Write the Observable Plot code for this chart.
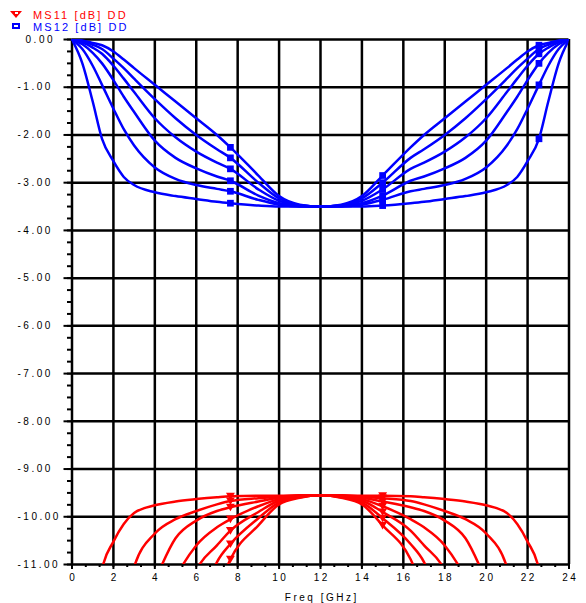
<!DOCTYPE html>
<html><head><meta charset="utf-8">
<script src="https://cdn.jsdelivr.net/npm/d3@7"></script>
<script src="https://cdn.jsdelivr.net/npm/@observablehq/plot@0.6"></script>
<style>
body{margin:0;background:#fff;}
#legend{position:relative;width:586px;height:33px;font-family:"Liberation Sans",Arial,sans-serif;font-size:11px;letter-spacing:2.1px;}
#legend .lab{position:absolute;left:33px;line-height:12px;white-space:nowrap;}
#legend .tri{position:absolute;left:10px;top:11px;width:0;height:0;border-left:6px solid transparent;border-right:6px solid transparent;border-top:7px solid #ff0000;}
#legend .tri::after{content:"";position:absolute;left:-1.5px;top:-6px;width:3px;height:2px;background:#fff;}
#legend .sq{position:absolute;left:12px;top:23px;width:8px;height:6px;box-sizing:border-box;border:2px solid #0000ff;background:#fff;}
#chart svg{display:block;}
</style></head><body>
<div id="legend">
  <span class="tri"></span><span class="lab" style="top:9px;color:#ff0000">MS11 [dB] DD</span>
  <span class="sq"></span><span class="lab" style="top:20.5px;color:#0000ff">MS12 [dB] DD</span>
</div>
<div id="chart"></div>
<script>
// Frequency grid [GHz]
const freq = [0,0.5,1,1.45,2,2.5,3,4,5,6,7,7.65,9,10,11,12,13,14,15,16.35,17,18,19,20,21,21.5,22,22.55,23,23.5,24];

// MS12 [dB] (blue family)
const ms12_a = [0,-0.5,-1.3,-2.08,-2.55,-2.88,-3.05,-3.2,-3.28,-3.34,-3.4,-3.43,-3.48,-3.5,-3.5,-3.5,-3.5,-3.5,-3.48,-3.43,-3.4,-3.34,-3.28,-3.2,-3.05,-2.88,-2.55,-2.08,-1.3,-0.5,0];
const ms12_b = [0,-0.2,-0.55,-0.95,-1.45,-1.88,-2.22,-2.68,-2.92,-3.05,-3.13,-3.18,-3.36,-3.46,-3.5,-3.5,-3.5,-3.46,-3.36,-3.18,-3.13,-3.05,-2.92,-2.68,-2.22,-1.88,-1.45,-0.95,-0.55,-0.2,0];
const ms12_c = [0,-0.1,-0.28,-0.5,-0.85,-1.2,-1.52,-2.12,-2.48,-2.7,-2.87,-2.96,-3.27,-3.43,-3.49,-3.5,-3.49,-3.43,-3.27,-2.96,-2.87,-2.7,-2.48,-2.12,-1.52,-1.2,-0.85,-0.5,-0.28,-0.1,0];
const ms12_d = [0,-0.06,-0.17,-0.3,-0.55,-0.82,-1.1,-1.65,-2.05,-2.35,-2.58,-2.71,-3.14,-3.38,-3.48,-3.5,-3.48,-3.38,-3.14,-2.71,-2.58,-2.35,-2.05,-1.65,-1.1,-0.82,-0.55,-0.3,-0.17,-0.06,0];
const ms12_e = [0,-0.04,-0.11,-0.2,-0.4,-0.6,-0.82,-1.25,-1.65,-2.0,-2.3,-2.48,-3.0,-3.33,-3.47,-3.5,-3.47,-3.33,-3.0,-2.48,-2.3,-2.0,-1.65,-1.25,-0.82,-0.6,-0.4,-0.2,-0.11,-0.04,0];
const ms12_f = [0,-0.02,-0.07,-0.12,-0.25,-0.42,-0.6,-0.95,-1.3,-1.65,-2.0,-2.26,-2.85,-3.28,-3.46,-3.5,-3.46,-3.28,-2.85,-2.26,-2.0,-1.65,-1.3,-0.95,-0.6,-0.42,-0.25,-0.12,-0.07,-0.02,0];

// MS11 [dB] (red family); null = off the chart
const ms11_a = [null,null,-12.4,-11.1,-10.52,-10.15,-9.92,-9.76,-9.68,-9.63,-9.59,-9.57,-9.56,-9.56,-9.55,-9.55,-9.55,-9.56,-9.56,-9.57,-9.59,-9.63,-9.68,-9.76,-9.92,-10.15,-10.52,-11.1,-12.4,null,null];
const ms11_b = [null,null,null,null,null,-11.9,-11.05,-10.35,-10.05,-9.88,-9.74,-9.67,-9.61,-9.58,-9.56,-9.55,-9.56,-9.58,-9.61,-9.67,-9.74,-9.88,-10.05,-10.35,-11.05,-11.9,null,null,null,null,null];
const ms11_c = [null,null,null,null,null,null,-12.5,-11.35,-10.45,-10.08,-9.88,-9.8,-9.68,-9.6,-9.56,-9.55,-9.56,-9.6,-9.68,-9.8,-9.88,-10.08,-10.45,-11.35,-12.5,null,null,null,null,null,null];
const ms11_d = [null,null,null,null,null,null,null,-12.5,-11.3,-10.6,-10.22,-10.05,-9.78,-9.63,-9.57,-9.55,-9.57,-9.63,-9.78,-10.05,-10.22,-10.6,-11.3,-12.5,null,null,null,null,null,null,null];
const ms11_e = [null,null,null,null,null,null,null,null,-12.4,-11.12,-10.6,-10.29,-9.9,-9.66,-9.58,-9.55,-9.58,-9.66,-9.9,-10.29,-10.6,-11.12,-12.4,null,null,null,null,null,null,null,null];
const ms11_f = [null,null,null,null,null,null,null,null,null,-12.2,-10.95,-10.57,-10.03,-9.7,-9.59,-9.55,-9.59,-9.7,-10.03,-10.57,-10.95,-12.2,null,null,null,null,null,null,null,null,null];
const ms11_g = [null,null,null,null,null,null,null,null,null,-13,-11.6,-10.89,-10.18,-9.74,-9.6,-9.55,-9.6,-9.74,-10.18,-10.89,-11.6,-13,null,null,null,null,null,null,null,null,null];

// Marker frequencies
const markFreq12 = [7.65, 15, 22.55];
const markFreq11 = [7.65, 15];

// Axis ticks and labels
const xTicks = [0,2,4,6,8,10,12,14,16,18,20,22,24];
const xTickLabels = ["0","2","4","6","8","10","12","14","16","18","20","22","24"];
const yTicks = [0,-1,-2,-3,-4,-5,-6,-7,-8,-9,-10,-11];
const yTickLabels = ["\u20070.00","-1.00","-2.00","-3.00","-4.00","-5.00","-6.00","-7.00","-8.00","-9.00","-10.00","-11.00"];
const xMinor = d3.range(0, 24.001, 2/3);
const yMinor = d3.range(0, -11.001, -0.25);

const BLUE = "#0000ff", RED = "#ff0000";

function rowsOf(series) {
  const out = [];
  series.forEach((vals, s) => vals.forEach((v, i) => { if (v !== null) out.push({f: freq[i], v, s}); }));
  return out;
}
const rows12 = rowsOf([ms12_a, ms12_b, ms12_c, ms12_d, ms12_e, ms12_f]);
const rows11 = rowsOf([ms11_a, ms11_b, ms11_c, ms11_d, ms11_e, ms11_f, ms11_g]);
const marks12 = rows12.filter(d => markFreq12.includes(d.f));
const marks11 = rows11.filter(d => markFreq11.includes(d.f) && d.v >= -11);

const triDown = {
  draw(ctx, size) {
    const k = Math.sqrt(size);
    ctx.moveTo(-0.6 * k, -0.48 * k);
    ctx.lineTo(0.6 * k, -0.48 * k);
    ctx.lineTo(0, 0.55 * k);
    ctx.closePath();
  }
};

const chart = Plot.plot({
  width: 586,
  height: 570,
  marginLeft: 71.5,
  marginRight: 17.5,
  marginTop: 6,
  marginBottom: 39,
  x: {domain: [0, 24], label: null},
  y: {domain: [-11, 0], label: null},
  style: {fontFamily: "'Liberation Sans', Arial, sans-serif", fontSize: "10px", letterSpacing: "2.5px", background: "#fff", color: "#000", overflow: "visible"},
  marks: [
    Plot.ruleX(xTicks, {stroke: "#000", strokeWidth: 2.5}),
    Plot.ruleY(yTicks, {stroke: "#000", strokeWidth: 2.5}),
    Plot.axisY({ticks: yTicks, tickSize: 8, fill: "none", label: null, strokeWidth: 2}),
    Plot.axisY({ticks: yMinor, tickSize: 4.5, fill: "none", label: null, strokeWidth: 2}),
    Plot.axisY({ticks: yTicks, tickSize: 0, tickPadding: 0, textAnchor: "start", dx: -54.5, label: null, tickFormat: (d, i) => yTickLabels[i]}),
    Plot.axisX({ticks: xTicks, tickSize: 5, fill: "none", label: null, strokeWidth: 2}),
    Plot.axisX({ticks: xMinor, tickSize: 3, fill: "none", label: null, strokeWidth: 2}),
    Plot.axisX({ticks: xTicks, tickSize: 0, tickPadding: 9, dx: 1.25, label: null, tickFormat: (d, i) => xTickLabels[i]}),
    Plot.text(["Freq [GHz]"], {frameAnchor: "bottom", dy: 33, dx: 1.25, lineAnchor: "middle", fill: "#000"}),
    Plot.line(rows11, {x: "f", y: "v", z: "s", stroke: RED, strokeWidth: 2.5, curve: "monotone-x", clip: true}),
    Plot.line(rows12, {x: "f", y: "v", z: "s", stroke: BLUE, strokeWidth: 2.5, curve: "monotone-x", clip: true}),
    Plot.dot(marks11, {x: "f", y: "v", symbol: triDown, r: 4.2, fill: RED, stroke: "none"}),
    Plot.dot(marks12, {x: "f", y: "v", symbol: "square", r: 3.8, fill: BLUE, stroke: "none"})
  ]
});
document.getElementById("chart").appendChild(chart);
</script>
</body></html>
